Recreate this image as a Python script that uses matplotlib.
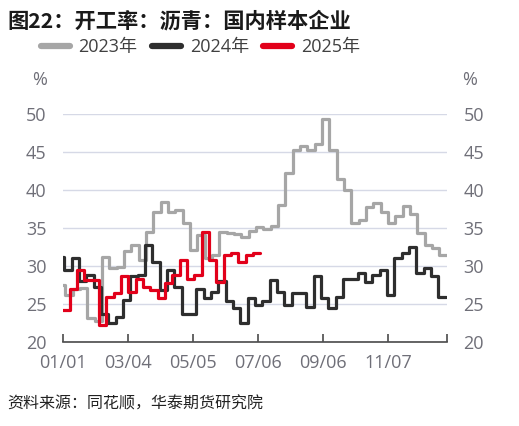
import numpy as np
import matplotlib
matplotlib.use("Agg")
import matplotlib.pyplot as plt
from matplotlib.lines import Line2D

plt.rcParams['font.family'] = ['Open Sans', 'Noto Sans CJK SC', 'DejaVu Sans']

# ---------------- data ----------------
title = "图22：开工率：沥青：国内样本企业"
source = "资料来源：同花顺，华泰期货研究院"
series_names = ["2023年", "2024年", "2025年"]
series_colors = ["#a6a6a6", "#2e2e2e", "#e2001a"]

# weekly values (start day of first week relative to 01/01)
start_2023 = -5
values_2023 = [27.5, 26.2, 26.9, 27.1, 23.1, 22.7, 31.1, 29.7, 29.9, 31.9,
               32.8, 30.8, 34.5, 37.1, 38.4, 37.1, 37.3, 35.6, 32.1, 34.0,
               31.0, 31.4, 34.4, 34.3, 34.2, 33.8, 34.6, 35.1, 34.9, 35.2,
               38.0, 42.2, 45.3, 45.8, 45.3, 46.1, 49.3, 45.3, 41.5, 40.0,
               35.6, 36.0, 37.8, 38.3, 37.1, 35.6, 36.5, 37.9, 36.8, 34.3,
               32.7, 32.3, 31.4]
start_2024 = -6
values_2024 = [31.2, 29.4, 31.0, 28.0, 28.8, 27.2, 23.7, 22.4, 23.3, 25.5,
               28.6, 28.8, 32.7, 30.5, 26.8, 29.4, 27.2, 23.7, 23.7, 27.0,
               25.7, 26.6, 28.0, 25.3, 24.4, 22.4, 25.7, 24.8, 25.3, 28.1,
               26.6, 24.8, 26.4, 26.4, 24.6, 28.6, 25.7, 24.4, 25.9, 28.2,
               28.2, 29.0, 27.9, 28.8, 29.4, 26.1, 31.0, 31.7, 32.5, 29.0,
               29.7, 28.6, 25.9]
start_2025 = -1
values_2025 = [24.2, 27.0, 29.4, 28.1, 28.1, 22.2, 25.9, 26.4, 28.6, 26.6,
               28.3, 27.2, 26.8, 25.8, 27.7, 28.8, 30.8, 28.3, 28.8, 34.5,
               30.8, 27.9, 31.4, 31.7, 30.5, 31.4, 31.7]

tick_days = [0, 62, 124, 186, 248, 310, 366]
tick_labels = ["01/01", "03/04", "05/05", "07/06", "09/06", "11/07", ""]
y_ticks = [20, 25, 30, 35, 40, 45, 50]

# ---------------- figure ----------------
W, H = 519, 426
fig = plt.figure(figsize=(W / 100, H / 100), dpi=100)
ax = fig.add_axes([63.3 / W, 1 - 341.7 / H, (446.7 - 63.3) / W, (341.7 - 114) / H])

starts = [start_2023, start_2024, start_2025]
vals = [values_2023, values_2024, values_2025]
for s, v, c in zip(starts, vals, series_colors):
    v = np.asarray(v, dtype=float)
    edges = s + 7 * np.arange(len(v) + 1)
    ax.stairs(v, edges, baseline=None, color=c, linewidth=2.3, zorder=3,
              joinstyle='round', capstyle='round')

ax.set_xlim(0, 366)
ax.set_ylim(20, 50)
ax.set_yticks(y_ticks)
ax.set_xticks(tick_days)
ax.set_xticklabels(tick_labels)

ax.grid(axis='y', color='#d6d9e6', linewidth=1.0, zorder=0)
ax.grid(axis='x', visible=False)
for sp in ['left', 'right', 'top']:
    ax.spines[sp].set_visible(False)
ax.spines['bottom'].set_color('#4a4a4a')
ax.spines['bottom'].set_linewidth(1.2)
ax.spines['bottom'].set_zorder(4)

ax.tick_params(axis='x', direction='in', length=5.5, width=1.2, color='#4a4a4a',
               labelsize=13, labelcolor='#6f6f78', pad=8.5)
ax.tick_params(axis='y', left=False, right=False, labelleft=True, labelright=True,
               labelsize=13, labelcolor='#6f6f78', pad=8.5)

fig.text(39.5 / W, 1 - 80 / H, "%", fontsize=13, color='#6f6f78', ha='center', va='center')
fig.text(470 / W, 1 - 80 / H, "%", fontsize=13, color='#6f6f78', ha='center', va='center')

fig.text(7 / W, 1 - 21 / H, title, fontsize=15.3, fontweight='bold', color='#1a1a1a',
         ha='left', va='center', family=['Noto Sans CJK SC', 'DejaVu Sans'])

handles = [Line2D([0], [0], color=c, linewidth=4.5, solid_capstyle='round') for c in series_colors]
fig.legend(handles, series_names, loc='center', bbox_to_anchor=(200.5 / W, 1 - 47 / H),
           ncol=3, frameon=False, fontsize=13, handlelength=1.6, handletextpad=0.5,
           columnspacing=0.8, labelcolor='#404040', borderaxespad=0, borderpad=0)

fig.text(7 / W, 1 - 404 / H, source, fontsize=11.5, color='#222222', style='italic',
         ha='left', va='center', family=['Noto Sans CJK SC', 'DejaVu Sans'])

fig.savefig("out.png", dpi=100)
